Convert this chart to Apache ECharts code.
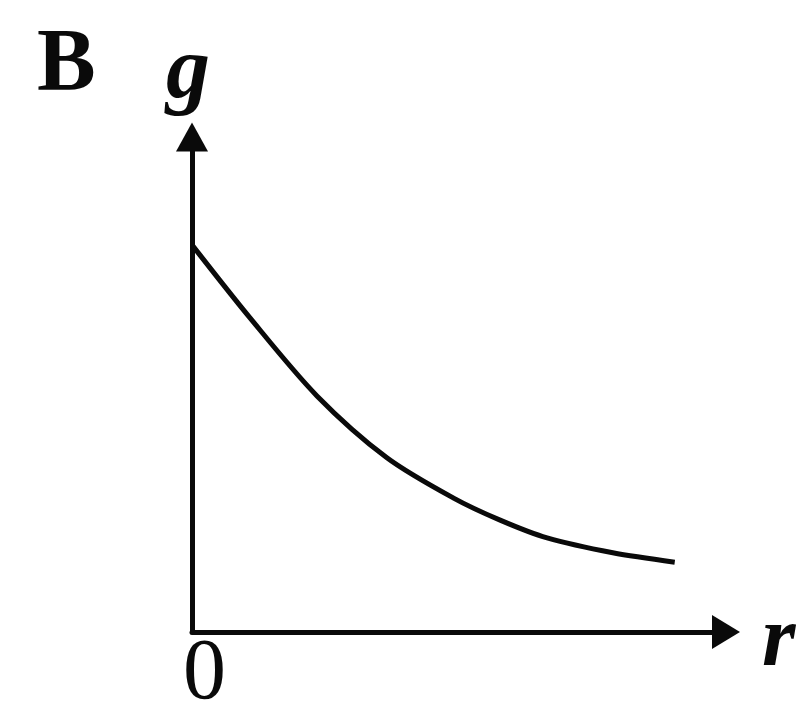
<!DOCTYPE html>
<html>
<head>
<meta charset="utf-8">
<script src="https://cdn.jsdelivr.net/npm/echarts@6/dist/echarts.min.js"></script>
<style>
  html, body { margin: 0; padding: 0; background: #fff; }
  #chart { width: 802px; height: 711px; }
</style>
</head>
<body>
<div id="chart"></div>
<script>
// Decay of g with distance r (arbitrary units)
const rValues = [0, 1.09, 2.34, 3.65, 4.89, 5.77, 6.65, 7.88, 9.04];
const gValues = [7.82, 6.34, 4.77, 3.52, 2.71, 2.26, 1.90, 1.60, 1.41];

const panelLabel = 'B';
const xName = 'r';
const yName = 'g';
const originLabel = '0';

const serif = 'Liberation Serif';
const ink = '#0a0a0a';

const chart = echarts.init(document.getElementById('chart'), null, { renderer: 'canvas' });

const axisCommon = {
  type: 'value',
  min: 0,
  max: 10,
  axisTick: { show: false },
  axisLabel: { show: false },
  splitLine: { show: false }
};

function label(text, left, top, size, weight, style) {
  return {
    type: 'text', left: left, top: top,
    style: {
      text: text, fill: ink,
      fontFamily: serif, fontSize: size,
      fontWeight: weight, fontStyle: style
    }
  };
}

chart.setOption({
  backgroundColor: '#ffffff',
  animation: false,
  grid: { left: 192, top: 137, right: 76, bottom: 79 },
  xAxis: Object.assign({}, axisCommon, {
    axisLine: {
      show: true,
      symbol: ['none', 'triangle'],
      symbolSize: [34, 28],
      lineStyle: { color: ink, width: 5 }
    }
  }),
  yAxis: Object.assign({}, axisCommon, {
    axisLine: {
      show: true,
      symbol: ['none', 'triangle'],
      symbolSize: [32, 29],
      lineStyle: { color: ink, width: 5 }
    }
  }),
  series: [{
    type: 'line',
    data: rValues.map((r, i) => [r, gValues[i]]),
    smooth: 0.3,
    showSymbol: false,
    lineStyle: { color: ink, width: 5 }
  }],
  graphic: [
    label(panelLabel, 37, 22, 88, 'bold', 'normal'),
    label(yName, 166, 30, 88, 'bold', 'italic'),
    label(originLabel, 183, 632, 86, 'normal', 'normal'),
    label(xName, 762, 600, 86, 'bold', 'italic')
  ]
});
</script>
</body>
</html>
